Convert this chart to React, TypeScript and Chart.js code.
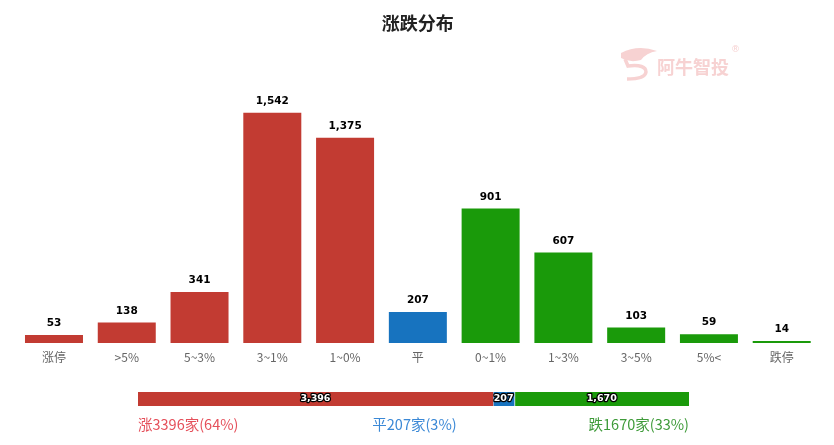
import React, { useEffect, useRef } from "react";
import { Chart, registerables } from "chart.js";

Chart.register(...registerables);

const categories = ["涨停", ">5%", "5~3%", "3~1%", "1~0%", "平", "0~1%", "1~3%", "3~5%", "5%<", "跌停"];
const values = [53, 138, 341, 1542, 1375, 207, 901, 607, 103, 59, 14];
const groups = ["up", "up", "up", "up", "up", "flat", "down", "down", "down", "down", "down"];

const summaryNames = ["涨", "平", "跌"];
const summaryValues = [3396, 207, 1670];
const summaryPercents = [64, 3, 33];

const Y_MAX = 1800;

const RED = "#c23b32";
const BLUE = "#1773bf";
const GREEN = "#1a9a0a";
const groupColor: Record<string, string> = { up: RED, flat: BLUE, down: GREEN };
const summaryColors = [RED, BLUE, GREEN];
const summaryTextColors = ["#e5505b", "#3a88d6", "#3f9b3a"];

const CJK = "'Noto Sans CJK SC', 'Noto Sans', sans-serif";

const fmt = (v: number) => v.toLocaleString("en-US");

const barLabelPlugin = {
  id: "barLabels",
  afterDatasetsDraw(chart: any) {
    const ctx = chart.ctx;
    const meta = chart.getDatasetMeta(0);
    ctx.save();
    ctx.font = "bold 10.5px 'DejaVu Sans', sans-serif";
    ctx.fillStyle = "#000";
    ctx.textAlign = "center";
    ctx.textBaseline = "middle";
    meta.data.forEach((el: any, i: number) => {
      ctx.fillText(fmt(values[i]), el.x, el.y - 11.5);
    });
    ctx.restore();
  },
};

const watermarkPlugin = {
  id: "watermark",
  beforeDatasetsDraw(chart: any) {
    const ctx = chart.ctx;
    ctx.save();
    ctx.translate(-8, -8);
    ctx.fillStyle = "#f7d2d2";
    ctx.strokeStyle = "#f7d2d2";
    ctx.beginPath();
    ctx.moveTo(621, 53);
    ctx.quadraticCurveTo(638, 44, 657, 51);
    ctx.quadraticCurveTo(646, 53, 641, 60);
    ctx.quadraticCurveTo(630, 63, 621, 58);
    ctx.closePath();
    ctx.fill();
    ctx.lineWidth = 3.5;
    ctx.beginPath();
    ctx.moveTo(625, 59);
    ctx.lineTo(628, 66);
    ctx.quadraticCurveTo(646, 64, 646, 72);
    ctx.quadraticCurveTo(645, 79, 627, 79);
    ctx.stroke();
    ctx.font = `bold 18px ${CJK}`;
    ctx.textAlign = "left";
    ctx.textBaseline = "middle";
    ctx.fillText("阿牛智投", 657, 67);
    ctx.font = "9px 'DejaVu Sans', sans-serif";
    ctx.fillText("®", 731, 50);
    ctx.restore();
  },
};

const stackLabelPlugin = {
  id: "stackLabels",
  afterDatasetsDraw(chart: any) {
    const ctx = chart.ctx;
    ctx.save();
    ctx.font = "bold 9.5px 'DejaVu Sans', sans-serif";
    ctx.textAlign = "center";
    ctx.textBaseline = "middle";
    ctx.lineJoin = "round";
    chart.data.datasets.forEach((_: any, i: number) => {
      const el: any = chart.getDatasetMeta(i).data[0];
      const cx = (el.x + el.base) / 2;
      const text = fmt(summaryValues[i]);
      ctx.strokeStyle = "#000";
      ctx.lineWidth = 2.5;
      ctx.strokeText(text, cx, el.y);
      ctx.fillStyle = "#fff";
      ctx.fillText(text, cx, el.y);
    });
    const area = chart.chartArea;
    const ty = 46;
    ctx.font = `14.5px ${CJK}`;
    const texts = summaryNames.map((n, i) => `${n}${summaryValues[i]}家(${summaryPercents[i]}%)`);
    ctx.fillStyle = summaryTextColors[0];
    ctx.textAlign = "left";
    ctx.fillText(texts[0], area.left, ty);
    ctx.fillStyle = summaryTextColors[1];
    ctx.textAlign = "center";
    ctx.fillText(texts[1], (area.left + area.right) / 2 + 1, ty);
    ctx.fillStyle = summaryTextColors[2];
    ctx.textAlign = "right";
    ctx.fillText(texts[2], area.right, ty);
    ctx.restore();
  },
};

export default function App() {
  const mainRef = useRef<HTMLCanvasElement>(null);
  const sumRef = useRef<HTMLCanvasElement>(null);

  useEffect(() => {
    const main = new Chart(mainRef.current as HTMLCanvasElement, {
      type: "bar",
      data: {
        labels: categories,
        datasets: [
          {
            data: values,
            backgroundColor: groups.map((g) => groupColor[g]),
            barPercentage: 0.797,
            categoryPercentage: 1,
          },
        ],
      },
      options: {
        animation: false,
        responsive: false,
        maintainAspectRatio: false,
        layout: { padding: { left: 9.6, right: 7.9, top: 0, bottom: 6.6 } },
        plugins: {
          legend: { display: false },
          tooltip: { enabled: false },
          title: {
            display: true,
            text: "涨跌分布",
            color: "#222",
            font: { size: 18, weight: "bold", family: CJK },
            padding: { top: 4.2, bottom: 40.5 },
          },
        },
        scales: {
          x: {
            grid: { display: false, drawTicks: false },
            border: { display: false },
            ticks: { padding: 7, color: "#666", font: { size: 12, family: CJK } },
          },
          y: { display: false, min: 0, max: Y_MAX },
        },
      } as any,
      plugins: [watermarkPlugin, barLabelPlugin],
    });

    const total = summaryValues.reduce((a, b) => a + b, 0);
    const sum = new Chart(sumRef.current as HTMLCanvasElement, {
      type: "bar",
      data: {
        labels: [""],
        datasets: summaryValues.map((v, i) => ({
          data: [v],
          backgroundColor: summaryColors[i],
          borderColor: "#fff",
          borderWidth: i > 0 ? { left: 1 } : 0,
          borderSkipped: false,
          barPercentage: 1,
          categoryPercentage: 1,
        })),
      },
      options: {
        indexAxis: "y",
        animation: false,
        responsive: false,
        maintainAspectRatio: false,
        layout: { padding: { left: 130, right: 137, top: 14, bottom: 31 } },
        plugins: { legend: { display: false }, tooltip: { enabled: false } },
        scales: {
          x: { display: false, stacked: true, min: 0, max: total },
          y: { display: false, stacked: true },
        },
      } as any,
      plugins: [stackLabelPlugin],
    });

    return () => {
      main.destroy();
      sum.destroy();
    };
  }, []);

  return (
    <div style={{ position: "relative", width: 818, height: 429 }}>
      <canvas ref={mainRef} width={818} height={370} style={{ position: "absolute", left: 0, top: 0, display: "block" }} />
      <canvas ref={sumRef} width={818} height={59} style={{ position: "absolute", left: 0, top: 370, display: "block" }} />
    </div>
  );
}
